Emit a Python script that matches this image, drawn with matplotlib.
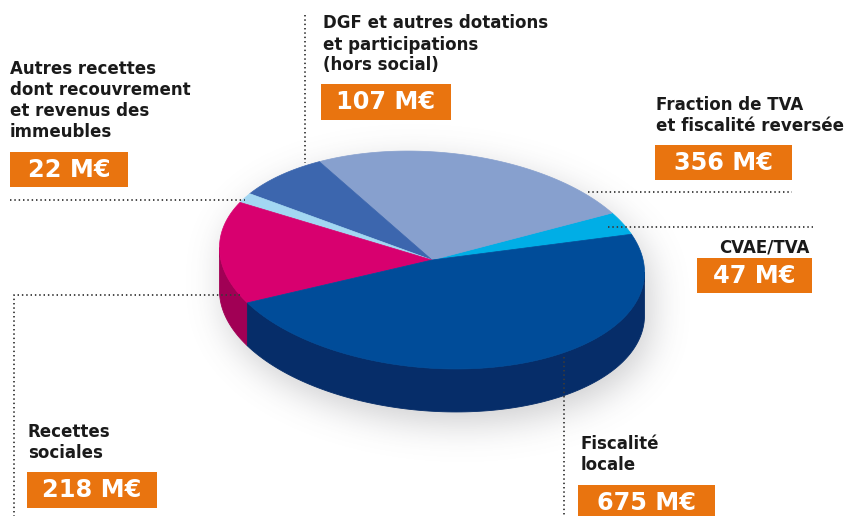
import numpy as np
import matplotlib
matplotlib.use("Agg")
import matplotlib.pyplot as plt
from matplotlib.patches import Polygon, Rectangle

# ---- revenue breakdown (M€), listed counter-clockwise from the right of the pie ----
categories = ["CVAE/TVA", "Fraction de TVA", "DGF", "Autres recettes",
              "Recettes sociales", "Fiscalité locale"]
values = [47, 356, 107, 22, 218, 675]
label_lines = [
    ["CVAE/TVA"],
    ["Fraction de TVA", "et fiscalité reversée"],
    ["DGF et autres dotations", "et participations", "(hors social)"],
    ["Autres recettes", "dont recouvrement", "et revenus des", "immeubles"],
    ["Recettes", "sociales"],
    ["Fiscalité", "locale"],
]
top_colors = ["#00AEE6", "#87A0CE", "#3C66AE", "#A3D7F2", "#D8006F", "#004C99"]
side_colors = ["#0083B0", "#6279A6", "#2A4B86", "#7DB3D2", "#A10055", "#062D69"]

ORANGE = "#E9740F"
INK = "#1A1A1A"
DOT = "#3A3A3A"

W, H, DPI = 850, 516, 100
fig = plt.figure(figsize=(W / DPI, H / DPI), dpi=DPI)
ax = fig.add_axes([0, 0, 1, 1])
ax.set_xlim(0, W)
ax.set_ylim(H, 0)
ax.axis("off")

# ---- pie geometry (pixel space, y downward) ----
cx, cy = 432.0, 260.0
a, b = 213.0, 108.0
phi = np.deg2rad(-4.5)
depth = 43.0
start = np.deg2rad(22.5)


def ell(t, dy=0.0):
    u = a * np.cos(t)
    v = b * np.sin(t)
    x = cx + u * np.cos(phi) - v * np.sin(phi)
    yup = u * np.sin(phi) + v * np.cos(phi)
    return x, cy - yup + dy


# soft drop shadow under the disc
yy, xx = np.mgrid[0:H, 0:W] + 0.5
sx, sy = 6.0, 12.0
mask = np.zeros((H, W), dtype=float)
for d in np.arange(0, depth + 1, 3):
    X = xx - sx - cx
    Yup = -(yy - sy - cy - d)
    u = X * np.cos(phi) + Yup * np.sin(phi)
    v = -X * np.sin(phi) + Yup * np.cos(phi)
    mask = np.maximum(mask, ((u / a) ** 2 + (v / b) ** 2 <= 1).astype(float))
sigma = 18.0
r = int(3 * sigma)
k = np.exp(-0.5 * (np.arange(-r, r + 1) / sigma) ** 2)
k /= k.sum()
blur = np.apply_along_axis(lambda row: np.convolve(row, k, mode="same"), 1, mask)
blur = np.apply_along_axis(lambda col: np.convolve(col, k, mode="same"), 0, blur)
shadow = np.zeros((H, W, 4))
shadow[..., :3] = (0.35, 0.35, 0.38)
shadow[..., 3] = 0.30 * blur
ax.imshow(shadow, extent=(0, W, H, 0), zorder=0, interpolation="bilinear")

# slice angles
total = float(sum(values))
bounds = start + 2 * np.pi * np.concatenate([[0], np.cumsum(values)]) / total

# visible front half of the rim
t_sil = np.arctan2(-b * np.sin(phi), a * np.cos(phi))
front0, front1 = t_sil + np.pi, t_sil + 2 * np.pi

for i in range(len(values)):
    t1, t2 = bounds[i], bounds[i + 1]
    for kshift in (-1, 0, 1):
        lo = max(t1, front0 + 2 * np.pi * kshift)
        hi = min(t2, front1 + 2 * np.pi * kshift)
        if hi > lo:
            t = np.linspace(lo, hi, 120)
            xt, yt = ell(t)
            xb, yb = ell(t, depth)
            pts = np.column_stack([np.concatenate([xt, xb[::-1]]),
                                   np.concatenate([yt, yb[::-1]])])
            ax.add_patch(Polygon(pts, closed=True, facecolor=side_colors[i],
                                 edgecolor=side_colors[i], lw=0.6, zorder=2))

for i in range(len(values)):
    t = np.linspace(bounds[i], bounds[i + 1], 200)
    xt, yt = ell(t)
    pts = np.column_stack([np.concatenate([[cx], xt]), np.concatenate([[cy], yt])])
    ax.add_patch(Polygon(pts, closed=True, facecolor=top_colors[i],
                         edgecolor=top_colors[i], lw=0.5, zorder=3))

# ---- labels ----
LABEL_PX, VALUE_PX = 16.6, 24.0
label_fs = LABEL_PX * 72 / DPI
value_fs = VALUE_PX * 72 / DPI
line_gap = 21.0

# (x, first baseline, alignment), value box (x0, y0, x1, y1)
label_pos = [
    (810, 252, "right"),
    (656, 110, "left"),
    (323, 28.5, "left"),
    (10, 74, "left"),
    (28, 437, "left"),
    (581, 449, "left"),
]
boxes = [
    (697, 258, 812, 293),
    (655, 145, 792, 180),
    (321, 84, 451, 120),
    (10, 152, 128, 187),
    (27, 472, 157, 508),
    (578, 485, 715, 521),
]
leaders = [
    [(608, 227), (813, 227)],
    [(588, 192), (792, 192)],
    [(305, 15), (305, 163)],
    [(10, 200), (245, 200)],
    [(240, 295), (14, 295), (14, 516)],
    [(564, 357), (564, 516)],
]

for lines, (lx, ly, ha) in zip(label_lines, label_pos):
    for j, line in enumerate(lines):
        ax.text(lx, ly + j * line_gap, line, ha=ha, va="baseline",
                fontsize=label_fs, fontweight="bold", color=INK,
                family="DejaVu Sans", zorder=6)

for v, (x0, y0, x1, y1) in zip(values, boxes):
    ax.add_patch(Rectangle((x0, y0), x1 - x0, y1 - y0, facecolor=ORANGE,
                           edgecolor="none", zorder=5))
    ax.text((x0 + x1) / 2, y0 + 25, f"{v} M€", ha="center", va="baseline",
            fontsize=value_fs, fontweight="bold", color="white",
            family="DejaVu Sans", zorder=6)

for path in leaders:
    px, py = zip(*path)
    ax.plot(px, py, color=DOT, lw=1.3, linestyle=(0, (0.8, 1.6)),
            solid_capstyle="butt", zorder=4)

fig.savefig("out.png", dpi=DPI, facecolor="white")
